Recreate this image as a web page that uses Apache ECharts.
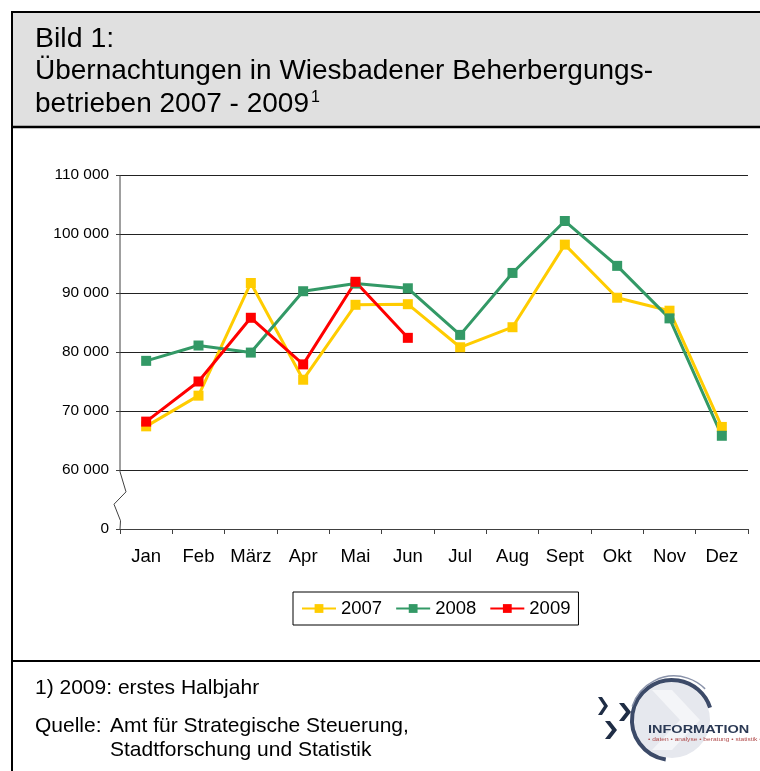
<!DOCTYPE html>
<html>
<head>
<meta charset="utf-8">
<script src="https://cdn.jsdelivr.net/npm/echarts@6/dist/echarts.min.js"></script>
<style>
html,body{margin:0;padding:0;background:#fff;}
#chart{width:760px;height:771px;}
</style>
</head>
<body>
<div id="chart"></div>
<script>
var months = ['Jan', 'Feb', 'März', 'Apr', 'Mai', 'Jun', 'Jul', 'Aug', 'Sept', 'Okt', 'Nov', 'Dez'];
var values2007 = [67400, 72600, 91700, 75300, 88000, 88100, 80800, 84200, 98200, 89200, 87000, 67300];
var values2008 = [78500, 81100, 79900, 90300, 91600, 90800, 82900, 93400, 102200, 94600, 85700, 65800];
var values2009 = [68200, 75000, 85800, 77900, 91900, 82400];
var yMin = 50000, yMax = 110000, yStep = 10000;
var breakValue = 60000;

var FONT = 'Liberation Sans, Arial, sans-serif';
var chart = echarts.init(document.getElementById('chart'), null, {renderer: 'canvas'});

function fmtNum(v) {
  if (v === yMin) return '0';
  var s = String(v);
  return s.replace(/\B(?=(\d{3})+(?!\d))/g, ' ');
}

function measure(text, size) {
  var c = document.createElement('canvas').getContext('2d');
  c.font = size + 'px ' + FONT;
  return c.measureText(text).width;
}

var titleL3 = 'betrieben 2007 - 2009';
var supX = 35 + measure(titleL3, 28) + 2;

var gridLeft = 120, gridTop = 175, gridRight = 12, gridBottom = 242;

var option = {
  animation: false,
  textStyle: {fontFamily: FONT},
  grid: {left: gridLeft, right: gridRight, top: gridTop, bottom: gridBottom, containLabel: false},
  legend: {
    data: ['2007', '2008', '2009'],
    left: 293, top: 592,
    padding: [7, 8],
    itemGap: 13,
    itemWidth: 34, itemHeight: 11,
    borderColor: '#000', borderWidth: 1,
    backgroundColor: '#fff',
    textStyle: {fontSize: 18.5, color: '#000', fontFamily: FONT}
  },
  xAxis: {
    type: 'category',
    data: months,
    boundaryGap: true,
    axisLine: {lineStyle: {color: '#404040', width: 1}},
    axisTick: {show: true, length: 5, interval: 0, alignWithLabel: false, lineStyle: {color: '#404040'}},
    axisLabel: {interval: 0, fontSize: 18.5, color: '#000', margin: 18.5, fontFamily: FONT},
    splitLine: {show: false}
  },
  yAxis: {
    type: 'value',
    min: yMin, max: yMax, interval: yStep,
    axisLine: {show: false},
    axisTick: {show: true, length: 4, lineStyle: {color: '#404040'}},
    axisLabel: {fontSize: 15.4, color: '#000', margin: 11, formatter: fmtNum, fontFamily: FONT},
    splitLine: {show: true, lineStyle: {color: '#222', width: 1.2}}
  },
  series: [
    {name: '2007', type: 'line', data: values2007, symbol: 'rect', symbolSize: 10,
     itemStyle: {color: '#FFCC00'}, lineStyle: {color: '#FFCC00', width: 3}},
    {name: '2008', type: 'line', data: values2008, symbol: 'rect', symbolSize: 10,
     itemStyle: {color: '#339966'}, lineStyle: {color: '#339966', width: 3}},
    {name: '2009', type: 'line', data: values2009, symbol: 'rect', symbolSize: 10,
     itemStyle: {color: '#FF0000'}, lineStyle: {color: '#FF0000', width: 3}}
  ],
  graphic: [
    {id: 'titlebg', type: 'rect', z: -10, shape: {x: 12, y: 12, width: 760, height: 115},
     style: {fill: '#e0e0e0', stroke: null}},
    {id: 'frame', type: 'rect', z: 10, shape: {x: 12, y: 12, width: 760, height: 780},
     style: {fill: null, stroke: '#000', lineWidth: 2}},
    {id: 'sep1', type: 'line', z: 10, shape: {x1: 12, y1: 127, x2: 760, y2: 127},
     style: {stroke: '#000', lineWidth: 2.5}},
    {id: 'sep2', type: 'line', z: 10, shape: {x1: 12, y1: 661, x2: 760, y2: 661},
     style: {stroke: '#000', lineWidth: 2}},
    {id: 't1', type: 'text', z: 11, style: {x: 35, y: 39, text: 'Bild 1:', fontSize: 28.5, fontFamily: FONT, fill: '#000', textVerticalAlign: 'middle', verticalAlign: 'middle'}},
    {id: 't2', type: 'text', z: 11, style: {x: 35, y: 71.5, text: 'Übernachtungen in Wiesbadener Beherbergungs-', fontSize: 28, fontFamily: FONT, fill: '#000', textVerticalAlign: 'middle', verticalAlign: 'middle'}},
    {id: 't3', type: 'text', z: 11, style: {x: 35, y: 104, text: titleL3, fontSize: 28, fontFamily: FONT, fill: '#000', textVerticalAlign: 'middle', verticalAlign: 'middle'}},
    {id: 't3s', type: 'text', z: 11, style: {x: supX, y: 98, text: '1', fontSize: 16, fontFamily: FONT, fill: '#000', textVerticalAlign: 'middle', verticalAlign: 'middle'}},
    {id: 'f1', type: 'text', z: 11, style: {x: 35, y: 688, text: '1) 2009: erstes Halbjahr', fontSize: 21, fontFamily: FONT, fill: '#000', textVerticalAlign: 'middle', verticalAlign: 'middle'}},
    {id: 'f2a', type: 'text', z: 11, style: {x: 35, y: 726, text: 'Quelle:', fontSize: 21, fontFamily: FONT, fill: '#000', textVerticalAlign: 'middle', verticalAlign: 'middle'}},
    {id: 'f2b', type: 'text', z: 11, style: {x: 110, y: 726, text: 'Amt für Strategische Steuerung,', fontSize: 21, fontFamily: FONT, fill: '#000', textVerticalAlign: 'middle', verticalAlign: 'middle'}},
    {id: 'f3', type: 'text', z: 11, style: {x: 110, y: 750, text: 'Stadtforschung und Statistik', fontSize: 21, fontFamily: FONT, fill: '#000', textVerticalAlign: 'middle', verticalAlign: 'middle'}},
    // logo
    {id: 'logoCircle', type: 'circle', z: 5, shape: {cx: 672, cy: 720, r: 38}, style: {fill: '#e6e8ee', stroke: null}},
    {id: 'logoBigChev', type: 'polygon', z: 6, shape: {points: [[652, 690], [672, 690], [700, 720], [672, 750], [652, 750], [680, 720]]}, style: {fill: '#f4f5f8'}},
    {id: 'logoArc', type: 'arc', z: 7, shape: {cx: 672, cy: 720, r: 40, startAngle: Math.PI * 0.55, endAngle: Math.PI * 1.9, clockwise: true}, style: {stroke: '#3c4a68', lineWidth: 4, fill: null}},
    {id: 'logoArc2', type: 'arc', z: 7, shape: {cx: 674, cy: 720, r: 44, startAngle: Math.PI * 1.1, endAngle: Math.PI * 1.75, clockwise: true}, style: {stroke: '#8a93aa', lineWidth: 1.5, fill: null}},
    {id: 'chevA', type: 'polygon', z: 8, shape: {points: [[598, 697], [602, 697], [608, 706], [602, 715], [598, 715], [604, 706]]}, style: {fill: '#1f2d45'}},
    {id: 'chevB', type: 'polygon', z: 8, shape: {points: [[619, 703], [624, 703], [631, 712], [624, 721], [619, 721], [626, 712]]}, style: {fill: '#1f2d45'}},
    {id: 'chevC', type: 'polygon', z: 8, shape: {points: [[605, 721], [610, 721], [617, 730], [610, 739], [605, 739], [612, 730]]}, style: {fill: '#1f2d45'}},
    {id: 'logoText', type: 'text', z: 9, x: 648, y: 730, scaleX: 1.45, style: {x: 0, y: 0, text: 'INFORMATION', fontSize: 10, fontWeight: 'bold', fontFamily: FONT, fill: '#2c3a55', textVerticalAlign: 'middle', verticalAlign: 'middle'}},
    {id: 'logoSub', type: 'text', z: 9, x: 648, y: 739, scaleX: 1.2, style: {x: 0, y: 0, text: '• daten • analyse • beratung • statistik •', fontSize: 5.5, fontFamily: FONT, fill: '#b04a4a', textVerticalAlign: 'middle', verticalAlign: 'middle'}}
  ]
};

chart.setOption(option);

// y-axis line with break (zigzag) between the lowest tick and the break value
var yTopPx = chart.convertToPixel({yAxisIndex: 0}, yMax);
var yBrkPx = chart.convertToPixel({yAxisIndex: 0}, breakValue);
var yBotPx = chart.convertToPixel({yAxisIndex: 0}, yMin);
var h = yBotPx - yBrkPx;
var x0 = gridLeft;
chart.setOption({
  graphic: [
    {id: 'yaxisline', type: 'polyline', z: 3, shape: {points: [
      [x0, yTopPx], [x0, yBrkPx + h * 0.03], [x0 + 6, yBrkPx + h * 0.37],
      [x0 - 6, yBrkPx + h * 0.58], [x0 + 0.5, yBrkPx + h * 0.86], [x0, yBotPx]
    ]}, style: {stroke: '#404040', lineWidth: 1, fill: null}}
  ]
});
</script>
</body>
</html>
